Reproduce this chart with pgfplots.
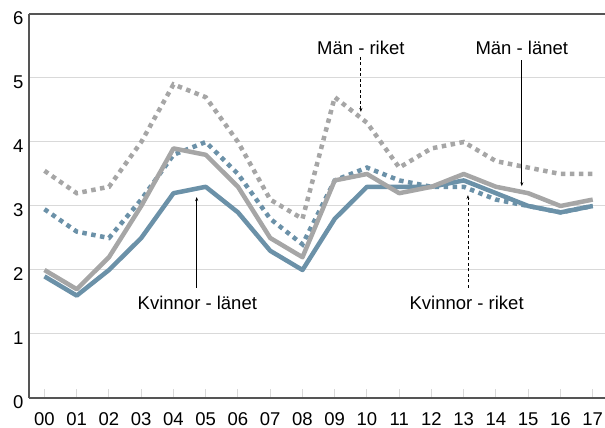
\documentclass[border=0pt]{standalone}
\usepackage{fontspec}
\setmainfont{Liberation Sans}
\usepackage{pgfplots}
\pgfplotsset{compat=1.18}
\usetikzlibrary{arrows.meta}
\definecolor{mgray}{HTML}{A6A6A6}
\definecolor{kblue}{HTML}{6B91A8}
\definecolor{framec}{HTML}{555555}
\definecolor{gridc}{HTML}{D9D9D9}
\newcommand{\lblfont}{\fontsize{18.5bp}{22bp}\selectfont}
\begin{document}
\begin{tikzpicture}
\begin{axis}[
  at={(29bp,30bp)}, anchor=south west,
  scale only axis, width=576bp, height=384bp,
  xmin=-0.48, xmax=17.38, ymin=0, ymax=6,
  axis x line*=bottom, axis y line*=left,
  axis line style={framec, line width=1.5bp, -},
  xtick={0,...,17},
  xticklabels={00,01,02,03,04,05,06,07,08,09,10,11,12,13,14,15,16,17},
  ytick={0,...,6},
  ymajorgrids, grid style={gridc, line width=1bp},
  tick align=inside, major tick length=9bp,
  xtick style={gridc, line width=1bp},
  ytick style={draw=none},
  /pgf/number format/assume math mode=true,
  tick label style={font=\lblfont},
  xticklabel style={yshift=-11bp},
  yticklabel style={xshift=-2bp, yshift=-4bp},
  clip=false,
]
\draw[framec, line width=1.5bp] (rel axis cs:0,1) -- (rel axis cs:1,1);
% Kvinnor - riket
\addplot[kblue, line width=4.5bp, dash pattern=on 4.5bp off 4.5bp] coordinates {
(0,2.95)(1,2.6)(2,2.5)(3,3.1)(4,3.8)(5,4.0)(6,3.5)(7,2.8)(8,2.4)(9,3.4)
(10,3.6)(11,3.4)(12,3.3)(13,3.3)(14,3.1)(15,3.0)(16,2.9)(17,3.0)};
% Män - riket
\addplot[mgray, line width=4.5bp, dash pattern=on 4.5bp off 4.5bp] coordinates {
(0,3.55)(1,3.2)(2,3.3)(3,4.0)(4,4.9)(5,4.7)(6,4.0)(7,3.1)(8,2.8)(9,4.7)
(10,4.3)(11,3.6)(12,3.9)(13,4.0)(14,3.7)(15,3.6)(16,3.5)(17,3.5)};
% Kvinnor - länet
\addplot[kblue, line width=4.5bp, line join=round] coordinates {
(0,1.9)(1,1.6)(2,2.0)(3,2.5)(4,3.2)(5,3.3)(6,2.9)(7,2.3)(8,2.0)(9,2.8)
(10,3.3)(11,3.3)(12,3.3)(13,3.4)(14,3.2)(15,3.0)(16,2.9)(17,3.0)};
% Män - länet
\addplot[mgray, line width=4.5bp, line join=round] coordinates {
(0,2.0)(1,1.7)(2,2.2)(3,3.0)(4,3.9)(5,3.8)(6,3.3)(7,2.5)(8,2.2)(9,3.4)
(10,3.5)(11,3.2)(12,3.3)(13,3.5)(14,3.3)(15,3.2)(16,3.0)(17,3.1)};
% annotations
\node[font=\lblfont] at (axis cs:9.81,5.47) {Män - riket};
\draw[-{Stealth[length=4bp,width=3bp]}, line width=0.8bp, dash pattern=on 3bp off 2.5bp]
  (axis cs:9.81,5.33) -- (axis cs:9.81,4.47);
\node[font=\lblfont] at (axis cs:14.8,5.47) {Män - länet};
\draw[-{Stealth[length=4bp,width=3bp]}, line width=0.8bp]
  (axis cs:14.8,5.28) -- (axis cs:14.8,3.31);
\node[font=\lblfont] at (axis cs:13.09,1.48) {Kvinnor - riket};
\draw[-{Stealth[length=4bp,width=3bp]}, line width=0.8bp, dash pattern=on 3bp off 2.5bp]
  (axis cs:13.13,1.72) -- (axis cs:13.13,3.17);
\node[font=\lblfont] at (axis cs:4.74,1.48) {Kvinnor - länet};
\draw[-{Stealth[length=4bp,width=3bp]}, line width=0.8bp]
  (axis cs:4.72,1.72) -- (axis cs:4.72,3.14);
\end{axis}
\pgfresetboundingbox
\path (0,0) rectangle (605bp,428bp);
\end{tikzpicture}
\end{document}
